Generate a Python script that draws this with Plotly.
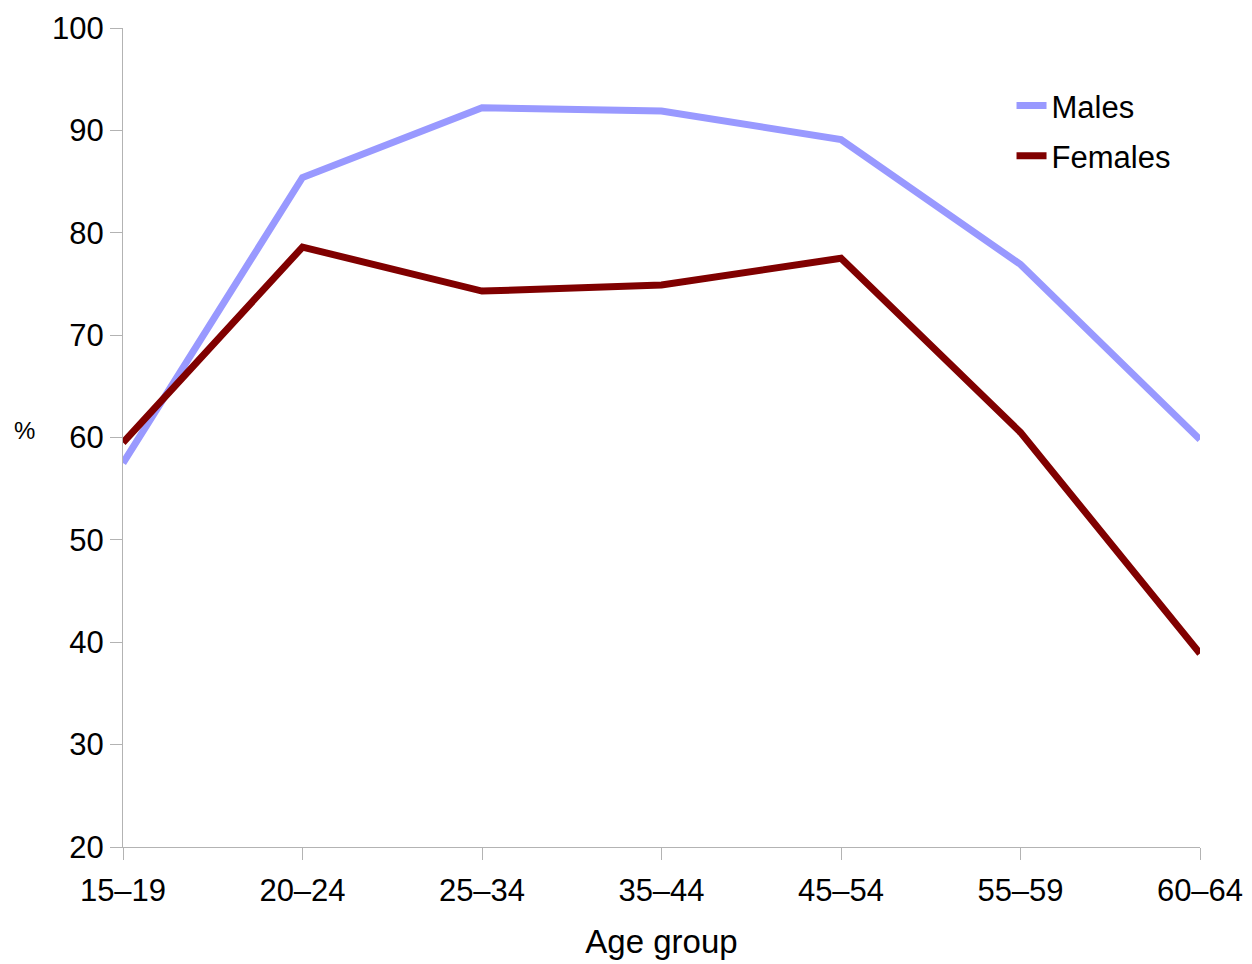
import plotly.graph_objects as go

age_groups = ["15–19", "20–24", "25–34", "35–44", "45–54", "55–59", "60–64"]
males = [57.5, 85.4, 92.2, 91.9, 89.1, 76.9, 59.8]
females = [59.5, 78.6, 74.3, 74.9, 77.5, 60.5, 38.9]

font = "Liberation Sans, Arial, sans-serif"
axis_grey = "#b3b3b3"

fig = go.Figure()
fig.add_trace(go.Scatter(x=age_groups, y=males, name="Males", mode="lines",
                         legendgroup="m", line=dict(color="#9999ff", width=7)))
fig.add_trace(go.Scatter(x=age_groups, y=females, name="Females", mode="lines",
                         legendgroup="f", line=dict(color="#800000", width=7)))

# page body adds 8px margin, so margins are trimmed to keep plot in place
fig.update_layout(
    width=1252, height=964,
    margin=dict(l=115, r=60, t=20, b=125),
    plot_bgcolor="white", paper_bgcolor="white",
    font=dict(family=font, size=31, color="black"),
    showlegend=True,
    legend=dict(x=0.825, y=0.938, xanchor="left", yanchor="top",
                bgcolor="rgba(0,0,0,0)", font=dict(size=31),
                tracegroupgap=7, itemwidth=30),
)
fig.update_xaxes(
    type="category", range=[0, 6], showgrid=False, automargin=False,
    showline=True, linecolor=axis_grey, linewidth=1,
    ticks="outside", ticklen=12, tickcolor=axis_grey, ticklabelstandoff=4,
    title=dict(text="Age group", standoff=22, font=dict(size=33)),
    tickfont=dict(size=31),
)
fig.update_yaxes(
    range=[20, 100], dtick=10, showgrid=False, zeroline=False, automargin=False,
    showline=True, linecolor=axis_grey, linewidth=1,
    ticks="outside", ticklen=12, tickcolor=axis_grey,
    tickfont=dict(size=31),
)
fig.add_annotation(text="%", xref="paper", yref="paper", x=-0.091, y=0.509,
                   showarrow=False, font=dict(size=24), xanchor="center")

fig.write_html("out.html")
